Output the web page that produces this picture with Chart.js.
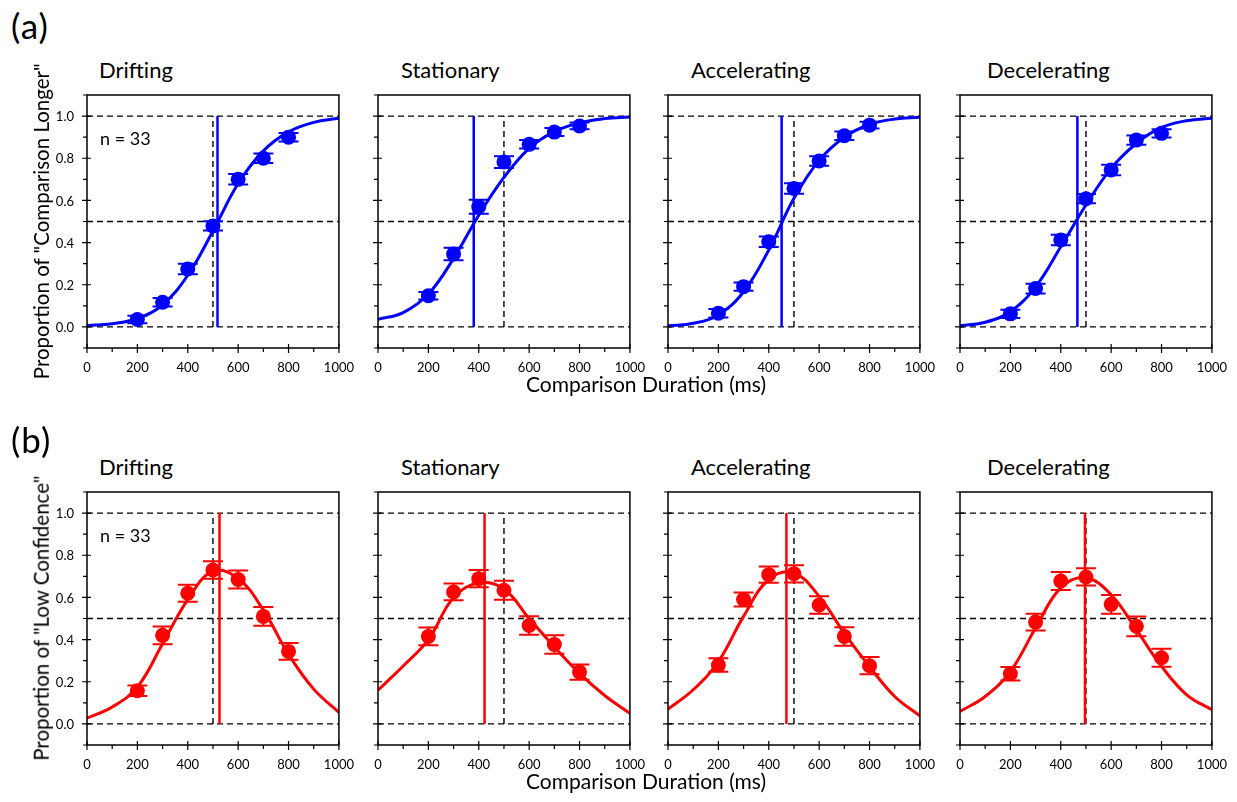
<!DOCTYPE html>
<html>
<head>
<meta charset="utf-8">
<script src="https://cdn.jsdelivr.net/npm/chart.js@4.4.1/dist/chart.umd.min.js"></script>
<style>
  body { margin: 0; background: #fff; width: 1237px; height: 802px; position: relative; overflow: hidden; font-family: Lato, sans-serif; }
  canvas.panel { position: absolute; }
  .lbl { position: absolute; line-height: 1; white-space: nowrap; color: #000; }
</style>
</head>
<body>
<script>
// comparison durations (ms) of the measured points and of the read fitted curves
const durations = [200, 300, 400, 500, 600, 700, 800];
const fitDurations = [0, 100, 200, 300, 400, 500, 600, 700, 800, 900, 1000];
const conditions = ['Drifting', 'Stationary', 'Accelerating', 'Decelerating'];

const xTickValues = [0, 200, 400, 600, 800, 1000];
const xMinorValues = [0, 100, 200, 300, 400, 500, 600, 700, 800, 900, 1000];
const yTickValues = [0, 0.2, 0.4, 0.6, 0.8, 1.0];
const yMinorValues = [-0.1, 0, 0.1, 0.2, 0.3, 0.4, 0.5, 0.6, 0.7, 0.8, 0.9, 1.0, 1.1];
const refLevels = [0, 0.5, 1.0];
const standardDuration = 500;

// (a) proportion of "comparison longer"
const longerDrifting = [0.035, 0.117, 0.275, 0.479, 0.70, 0.80, 0.90];
const longerStationary = [0.148, 0.346, 0.570, 0.782, 0.866, 0.924, 0.953];
const longerAccelerating = [0.065, 0.191, 0.404, 0.657, 0.787, 0.907, 0.957];
const longerDecelerating = [0.062, 0.182, 0.412, 0.608, 0.744, 0.886, 0.918];

const longerDriftingErr = [0.018, 0.02, 0.025, 0.022, 0.025, 0.022, 0.02];
const longerStationaryErr = [0.018, 0.03, 0.033, 0.028, 0.02, 0.019, 0.016];
const longerAcceleratingErr = [0.02, 0.02, 0.025, 0.025, 0.022, 0.02, 0.016];
const longerDeceleratingErr = [0.02, 0.023, 0.025, 0.022, 0.025, 0.022, 0.019];

const longerDriftingFit = [0.006, 0.015, 0.04, 0.105, 0.245, 0.455, 0.68, 0.835, 0.925, 0.97, 0.99];
const longerStationaryFit = [0.036, 0.068, 0.156, 0.325, 0.53, 0.709, 0.847, 0.926, 0.968, 0.988, 0.996];
const longerAcceleratingFit = [0.005, 0.017, 0.057, 0.167, 0.365, 0.61, 0.79, 0.90, 0.96, 0.986, 0.994];
const longerDeceleratingFit = [0.005, 0.022, 0.073, 0.19, 0.38, 0.578, 0.752, 0.87, 0.946, 0.978, 0.99];

const longerPSE = [518, 380, 451, 466];

// (b) proportion of "low confidence"
const lowDrifting = [0.157, 0.42, 0.62, 0.73, 0.685, 0.51, 0.344];
const lowStationary = [0.415, 0.626, 0.689, 0.634, 0.467, 0.377, 0.246];
const lowAccelerating = [0.279, 0.59, 0.708, 0.712, 0.564, 0.415, 0.276];
const lowDecelerating = [0.238, 0.483, 0.678, 0.697, 0.567, 0.463, 0.314];

const lowDriftingErr = [0.025, 0.042, 0.04, 0.042, 0.043, 0.044, 0.04];
const lowStationaryErr = [0.042, 0.04, 0.041, 0.045, 0.044, 0.044, 0.036];
const lowAcceleratingErr = [0.032, 0.033, 0.039, 0.041, 0.042, 0.044, 0.041];
const lowDeceleratingErr = [0.032, 0.04, 0.043, 0.041, 0.045, 0.047, 0.043];

const lowDriftingFit = [0.027, 0.08, 0.175, 0.38, 0.59, 0.725, 0.69, 0.54, 0.33, 0.165, 0.055];
const lowStationaryFit = [0.16, 0.275, 0.40, 0.60, 0.67, 0.64, 0.50, 0.365, 0.24, 0.135, 0.05];
const lowAcceleratingFit = [0.07, 0.162, 0.296, 0.51, 0.685, 0.716, 0.605, 0.43, 0.272, 0.13, 0.038];
const lowDeceleratingFit = [0.059, 0.13, 0.249, 0.455, 0.645, 0.693, 0.613, 0.447, 0.273, 0.138, 0.067];

const lowPSE = [526, 423, 470, 496];

const rows = [
  { tag: '(a)', tagBaseline: 39, top: 95, color: 'rgb(0, 0, 255)',
    means: [longerDrifting, longerStationary, longerAccelerating, longerDecelerating],
    errs: [longerDriftingErr, longerStationaryErr, longerAcceleratingErr, longerDeceleratingErr],
    fits: [longerDriftingFit, longerStationaryFit, longerAcceleratingFit, longerDeceleratingFit],
    pse: longerPSE, yTitle: 'Proportion of "Comparison Longer"' },
  { tag: '(b)', tagBaseline: 453, top: 492, color: 'rgb(255, 0, 0)',
    means: [lowDrifting, lowStationary, lowAccelerating, lowDecelerating],
    errs: [lowDriftingErr, lowStationaryErr, lowAcceleratingErr, lowDeceleratingErr],
    fits: [lowDriftingFit, lowStationaryFit, lowAcceleratingFit, lowDeceleratingFit],
    pse: lowPSE, yTitle: 'Proportion of "Low Confidence"' }
];

const panelLefts = [87, 378, 668, 960];
const plotW = 254, plotH = 253;
const padL = 50, padT = 10, padR = 25, padB = 35;

Chart.defaults.font.family = 'Lato, sans-serif';
Chart.defaults.color = '#000';

// error bars with caps, drawn under the points
const errorBars = {
  id: 'errorBars',
  beforeDatasetDraw(chart, args) {
    const ds = chart.data.datasets[args.index];
    if (!ds.errors) return;
    const { ctx, scales: { x, y } } = chart;
    ctx.save();
    ctx.strokeStyle = ds.borderColor;
    ctx.lineWidth = 2;
    ctx.beginPath();
    ds.data.forEach((p, k) => {
      const e = ds.errors[k];
      const px = x.getPixelForValue(p.x);
      const y1 = y.getPixelForValue(p.y + e);
      const y2 = y.getPixelForValue(p.y - e);
      ctx.moveTo(px, y1); ctx.lineTo(px, y2);
      ctx.moveTo(px - 10, y1); ctx.lineTo(px + 10, y1);
      ctx.moveTo(px - 10, y2); ctx.lineTo(px + 10, y2);
    });
    ctx.stroke();
    ctx.restore();
  }
};

// box around the plot, tick marks, y tick labels on the first panel
const frameTicks = {
  id: 'frameTicks',
  afterDraw(chart, args, opts) {
    const { ctx, chartArea: a, scales: { x, y } } = chart;
    ctx.save();
    ctx.strokeStyle = '#000';
    ctx.lineWidth = 1.5;
    ctx.strokeRect(a.left, a.top, a.right - a.left, a.bottom - a.top);
    ctx.lineWidth = 1.2;
    ctx.beginPath();
    xMinorValues.forEach(v => {
      const px = x.getPixelForValue(v);
      const major = xTickValues.includes(v);
      ctx.moveTo(px, a.bottom - (major ? 4 : 0));
      ctx.lineTo(px, a.bottom + (major ? 5 : 4));
    });
    yMinorValues.forEach(v => {
      const py = y.getPixelForValue(v);
      const major = yTickValues.includes(v);
      ctx.moveTo(a.left + (major ? 4 : 0), py);
      ctx.lineTo(a.left - (major ? 5 : 4), py);
    });
    ctx.stroke();
    if (opts.yLabels) {
      ctx.fillStyle = '#000';
      ctx.font = '13px Lato, sans-serif';
      ctx.textAlign = 'right';
      ctx.textBaseline = 'middle';
      yTickValues.forEach(v => ctx.fillText(v.toFixed(1), a.left - 13, y.getPixelForValue(v) + 1));
    }
    ctx.restore();
  }
};

function dashed(points) {
  return { data: points, showLine: true, pointRadius: 0, borderColor: '#000', borderWidth: 1.4, borderDash: [6, 4] };
}

function makePanel(row, i) {
  const canvas = document.createElement('canvas');
  canvas.className = 'panel';
  const w = padL + plotW + padR, h = padT + plotH + padB;
  canvas.width = w; canvas.height = h;
  canvas.style.width = w + 'px'; canvas.style.height = h + 'px';
  canvas.style.left = (panelLefts[i] - padL) + 'px';
  canvas.style.top = (row.top - padT) + 'px';
  document.body.appendChild(canvas);

  const color = row.color;
  const datasets = [
    { data: durations.map((d, k) => ({ x: d, y: row.means[i][k] })), errors: row.errs[i],
      showLine: false, pointRadius: 7.5, pointBorderWidth: 0, backgroundColor: color, borderColor: color },
    { data: fitDurations.map((d, k) => ({ x: d, y: row.fits[i][k] })),
      showLine: true, pointRadius: 0, borderColor: color, borderWidth: 3, tension: 0.4 },
    { data: [{ x: row.pse[i], y: 0 }, { x: row.pse[i], y: 1 }],
      showLine: true, pointRadius: 0, borderColor: color, borderWidth: 2.5 },
    dashed([{ x: standardDuration, y: 0 }, { x: standardDuration, y: 1 }]),
    ...refLevels.map(l => dashed([{ x: 0, y: l }, { x: 1000, y: l }]))
  ];

  new Chart(canvas, {
    type: 'scatter',
    data: { datasets: datasets },
    options: {
      responsive: false,
      animation: false,
      devicePixelRatio: 1,
      layout: { padding: { top: padT, right: padR, left: 0, bottom: 0 } },
      plugins: { legend: { display: false }, tooltip: { enabled: false }, frameTicks: { yLabels: i === 0 } },
      scales: {
        x: {
          type: 'linear', min: 0, max: 1000,
          grid: { display: false, drawTicks: false }, border: { display: false },
          afterBuildTicks: s => { s.ticks = xTickValues.map(v => ({ value: v })); },
          afterFit: s => { s.height = padB; },
          ticks: { padding: 12, maxRotation: 0, autoSkip: false, font: { size: 13 }, callback: v => String(v) }
        },
        y: {
          type: 'linear', min: -0.1, max: 1.1,
          grid: { display: false, drawTicks: false }, border: { display: false },
          afterBuildTicks: s => { s.ticks = yTickValues.map(v => ({ value: v })); },
          afterFit: s => { s.width = padL; },
          ticks: { display: false }
        }
      }
    },
    plugins: [errorBars, frameTicks]
  });
}

function addText(txt, left, baseline, size, opts) {
  const d = document.createElement('div');
  d.className = 'lbl';
  d.textContent = txt;
  d.style.fontSize = size + 'px';
  d.style.left = left + 'px';
  d.style.top = (baseline - 0.887 * size) + 'px';
  if (opts) Object.assign(d.style, opts);
  document.body.appendChild(d);
  return d;
}

const titleLefts = [99, 401, 691, 987];

rows.forEach((row, r) => {
  conditions.forEach((c, i) => makePanel(row, i));
  const base = row.top;
  addText(row.tag, 11, row.tagBaseline, 35, { letterSpacing: '1px' });
  conditions.forEach((c, i) => addText(c, titleLefts[i], base - 16, 22));
  addText('n = 33', 100, base + 50, 18);
  addText('Comparison Duration (ms)', 346, base + 297, 21, { width: '600px', textAlign: 'center' });
  const yt = addText(row.yTitle, 41 - 250, 0, 20.5, { width: '500px', textAlign: 'center', transform: 'rotate(-90deg)' });
  yt.style.top = (base + plotH / 2 - 10.25) + 'px';
});
</script>
</body>
</html>
